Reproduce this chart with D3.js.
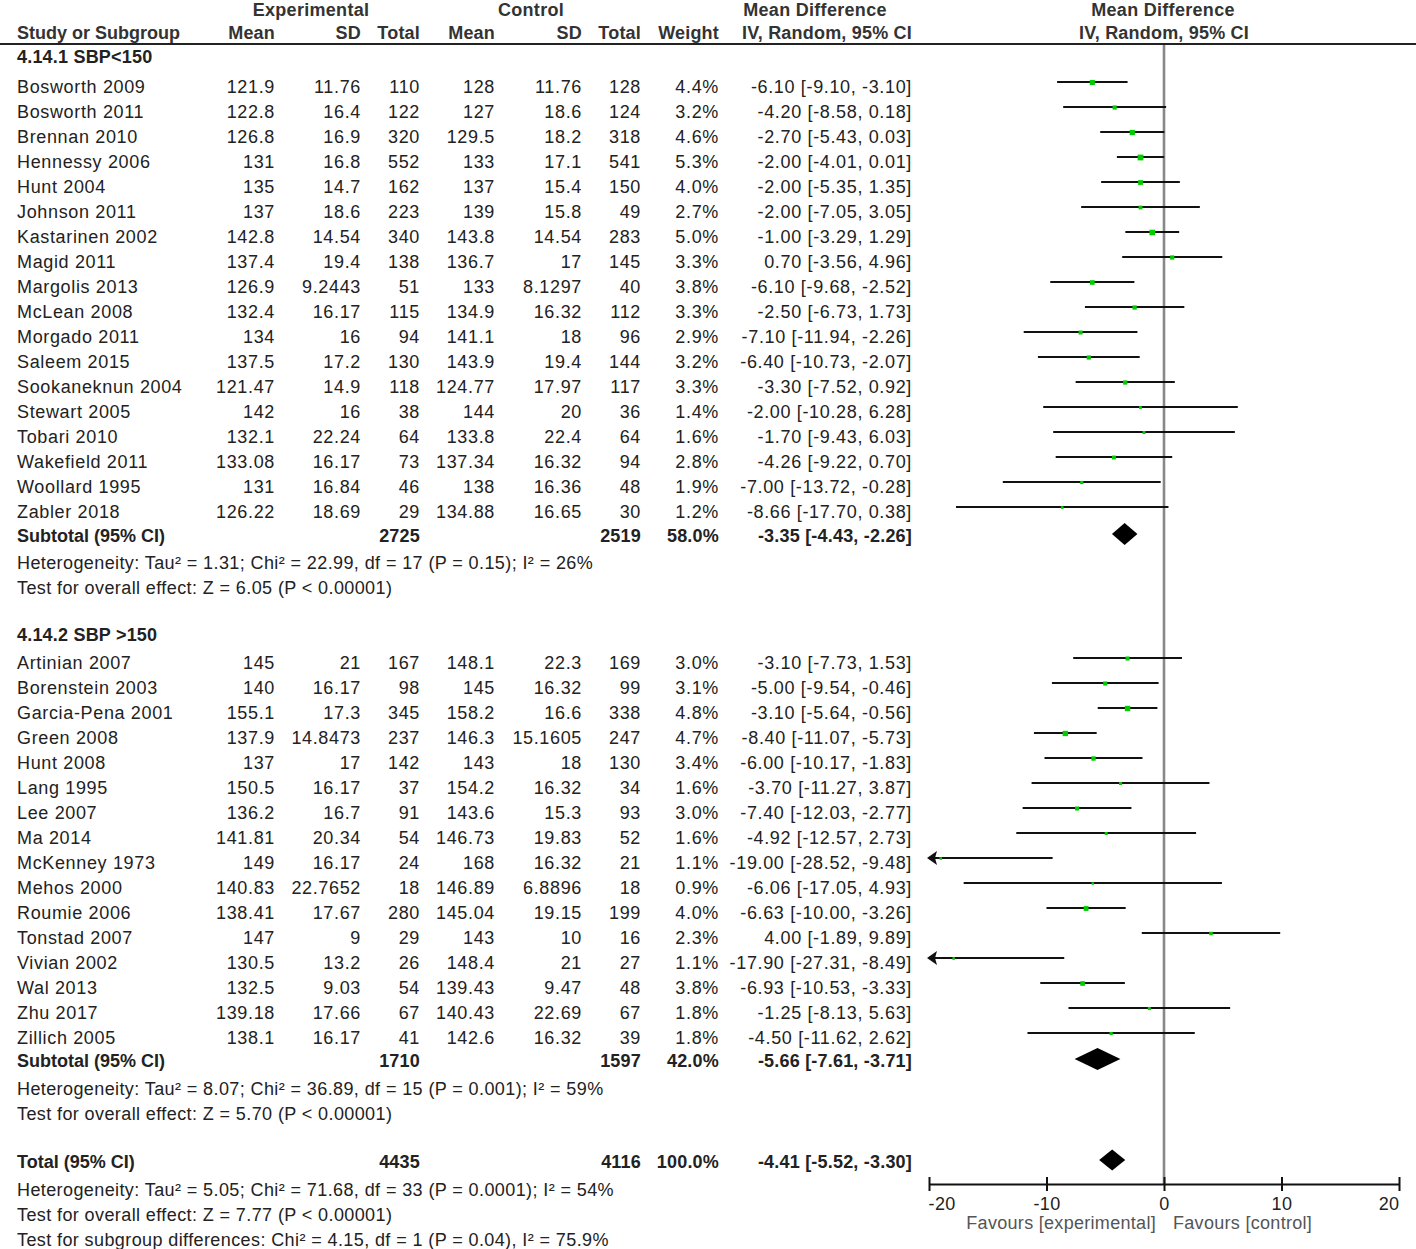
<!DOCTYPE html>
<html><head><meta charset="utf-8">
<script src="https://cdn.jsdelivr.net/npm/d3@7"></script>
<style>
html,body{margin:0;padding:0;background:#fff;}
svg{display:block;font-family:"Liberation Sans",Arial,sans-serif;}
</style></head>
<body><svg id="c" width="1416" height="1249"></svg>
<script>
// ---------- DATA ----------
const group1Label = "4.14.1 SBP<150";
const group1Rows = [
 ["Bosworth 2009","121.9","11.76","110","128","11.76","128"],
 ["Bosworth 2011","122.8","16.4","122","127","18.6","124"],
 ["Brennan 2010","126.8","16.9","320","129.5","18.2","318"],
 ["Hennessy 2006","131","16.8","552","133","17.1","541"],
 ["Hunt 2004","135","14.7","162","137","15.4","150"],
 ["Johnson 2011","137","18.6","223","139","15.8","49"],
 ["Kastarinen 2002","142.8","14.54","340","143.8","14.54","283"],
 ["Magid 2011","137.4","19.4","138","136.7","17","145"],
 ["Margolis 2013","126.9","9.2443","51","133","8.1297","40"],
 ["McLean 2008","132.4","16.17","115","134.9","16.32","112"],
 ["Morgado 2011","134","16","94","141.1","18","96"],
 ["Saleem 2015","137.5","17.2","130","143.9","19.4","144"],
 ["Sookaneknun 2004","121.47","14.9","118","124.77","17.97","117"],
 ["Stewart 2005","142","16","38","144","20","36"],
 ["Tobari 2010","132.1","22.24","64","133.8","22.4","64"],
 ["Wakefield 2011","133.08","16.17","73","137.34","16.32","94"],
 ["Woollard 1995","131","16.84","46","138","16.36","48"],
 ["Zabler 2018","126.22","18.69","29","134.88","16.65","30"]
];
const group1Weight = [4.4,3.2,4.6,5.3,4.0,2.7,5.0,3.3,3.8,3.3,2.9,3.2,3.3,1.4,1.6,2.8,1.9,1.2];
const group1MD  = [-6.10,-4.20,-2.70,-2.00,-2.00,-2.00,-1.00,0.70,-6.10,-2.50,-7.10,-6.40,-3.30,-2.00,-1.70,-4.26,-7.00,-8.66];
const group1Lo  = [-9.10,-8.58,-5.43,-4.01,-5.35,-7.05,-3.29,-3.56,-9.68,-6.73,-11.94,-10.73,-7.52,-10.28,-9.43,-9.22,-13.72,-17.70];
const group1Hi  = [-3.10,0.18,0.03,0.01,1.35,3.05,1.29,4.96,-2.52,1.73,-2.26,-2.07,0.92,6.28,6.03,0.70,-0.28,0.38];
const group1Subtotal = {exp:"2725", ctl:"2519", weight:58.0, md:-3.35, lo:-4.43, hi:-2.26};
const group1Het = "Heterogeneity: Tau\u00b2 = 1.31; Chi\u00b2 = 22.99, df = 17 (P = 0.15); I\u00b2 = 26%";
const group1Test = "Test for overall effect: Z = 6.05 (P < 0.00001)";

const group2Label = "4.14.2 SBP >150";
const group2Rows = [
 ["Artinian 2007","145","21","167","148.1","22.3","169"],
 ["Borenstein 2003","140","16.17","98","145","16.32","99"],
 ["Garcia-Pena 2001","155.1","17.3","345","158.2","16.6","338"],
 ["Green 2008","137.9","14.8473","237","146.3","15.1605","247"],
 ["Hunt 2008","137","17","142","143","18","130"],
 ["Lang 1995","150.5","16.17","37","154.2","16.32","34"],
 ["Lee 2007","136.2","16.7","91","143.6","15.3","93"],
 ["Ma 2014","141.81","20.34","54","146.73","19.83","52"],
 ["McKenney 1973","149","16.17","24","168","16.32","21"],
 ["Mehos 2000","140.83","22.7652","18","146.89","6.8896","18"],
 ["Roumie 2006","138.41","17.67","280","145.04","19.15","199"],
 ["Tonstad 2007","147","9","29","143","10","16"],
 ["Vivian 2002","130.5","13.2","26","148.4","21","27"],
 ["Wal 2013","132.5","9.03","54","139.43","9.47","48"],
 ["Zhu 2017","139.18","17.66","67","140.43","22.69","67"],
 ["Zillich 2005","138.1","16.17","41","142.6","16.32","39"]
];
const group2Weight = [3.0,3.1,4.8,4.7,3.4,1.6,3.0,1.6,1.1,0.9,4.0,2.3,1.1,3.8,1.8,1.8];
const group2MD  = [-3.10,-5.00,-3.10,-8.40,-6.00,-3.70,-7.40,-4.92,-19.00,-6.06,-6.63,4.00,-17.90,-6.93,-1.25,-4.50];
const group2Lo  = [-7.73,-9.54,-5.64,-11.07,-10.17,-11.27,-12.03,-12.57,-28.52,-17.05,-10.00,-1.89,-27.31,-10.53,-8.13,-11.62];
const group2Hi  = [1.53,-0.46,-0.56,-5.73,-1.83,3.87,-2.77,2.73,-9.48,4.93,-3.26,9.89,-8.49,-3.33,5.63,2.62];
const group2Subtotal = {exp:"1710", ctl:"1597", weight:42.0, md:-5.66, lo:-7.61, hi:-3.71};
const group2Het = "Heterogeneity: Tau\u00b2 = 8.07; Chi\u00b2 = 36.89, df = 15 (P = 0.001); I\u00b2 = 59%";
const group2Test = "Test for overall effect: Z = 5.70 (P < 0.00001)";

const totalRow = {exp:"4435", ctl:"4116", weight:100.0, md:-4.41, lo:-5.52, hi:-3.30};
const totalNotes = [
 "Heterogeneity: Tau\u00b2 = 5.05; Chi\u00b2 = 71.68, df = 33 (P = 0.0001); I\u00b2 = 54%",
 "Test for overall effect: Z = 7.77 (P < 0.00001)",
 "Test for subgroup differences: Chi\u00b2 = 4.15, df = 1 (P = 0.04), I\u00b2 = 75.9%"
];
const tickValues = [-20,-10,0,10,20];
const tickLabels = ["-20","-10","0","10","20"];
const favoursLeft = "Favours [experimental]";
const favoursRight = "Favours [control]";
const colHeaders = ["Study or Subgroup","Mean","SD","Total","Mean","SD","Total","Weight","IV, Random, 95% CI"];

// ---------- LAYOUT ----------
const svg = d3.select("#c");
const FS = 18;
const TXT = "#222";
const LS = 0.65;
const colRight = [null,275,361,420,495,582,641,719,912];
const xLeft = 17;
const x = d3.scaleLinear().domain([-20,20]).range([929,1399]);
const axisY = 1184;
const fmt = v => v.toFixed(2);
const ciText = (m,l,h) => `${fmt(m)} [${fmt(l)}, ${fmt(h)}]`;

function text(xp, yb, s, opts={}) {
  return svg.append("text").attr("x", xp).attr("y", yb)
    .attr("font-size", opts.size || FS)
    .attr("font-weight", opts.bold ? "bold" : "normal")
    .attr("fill", opts.fill || TXT)
    .attr("text-anchor", opts.anchor || "start")
    .attr("letter-spacing", opts.ls != null ? opts.ls : LS)
    .text(s);
}

// Header
text(311, 16, "Experimental", {bold:true, anchor:"middle", fill:"#333", ls:0.3});
text(531, 16, "Control", {bold:true, anchor:"middle", fill:"#333", ls:0.3});
text(815, 16, "Mean Difference", {bold:true, anchor:"middle", fill:"#333", ls:0.3});
text(1163, 16, "Mean Difference", {bold:true, anchor:"middle", fill:"#333", ls:0.3});
text(xLeft, 39, colHeaders[0], {bold:true, fill:"#333", ls:0});
for (let i=1;i<colHeaders.length;i++) text(colRight[i], 39, colHeaders[i], {bold:true, anchor:"end", fill:"#333", ls:0.2});
text(1164, 39, colHeaders[8], {bold:true, anchor:"middle", fill:"#333", ls:0.2});

svg.append("line").attr("x1",0).attr("x2",1416).attr("y1",44).attr("y2",44)
  .attr("stroke","#222").attr("stroke-width",2);

// zero line
svg.append("line").attr("x1",x(0)).attr("x2",x(0)).attr("y1",45).attr("y2",axisY)
  .attr("stroke","#888").attr("stroke-width",2.6);

const plot = svg.append("g");

function studyRow(row, w, md, lo, hi, yb) {
  text(xLeft, yb, row[0]);
  for (let c=1;c<=6;c++) text(colRight[c], yb, row[c], {anchor:"end"});
  text(colRight[7], yb, w.toFixed(1)+"%", {anchor:"end"});
  text(colRight[8], yb, ciText(md,lo,hi), {anchor:"end"});
  const yl = yb - 11;
  const [dmin,dmax] = x.domain();
  const l = Math.max(lo, dmin), h = Math.min(hi, dmax);
  plot.append("line").attr("x1", x(l)).attr("x2", x(h)).attr("y1", yl).attr("y2", yl)
    .attr("stroke","#111").attr("stroke-width",2);
  if (lo < dmin) {
    const ax = x(dmin);
    plot.append("path").attr("d", `M${ax-2},${yl} L${ax+8},${yl-7} L${ax+6},${yl} L${ax+8},${yl+7} Z`).attr("fill","#111");
  }
  if (hi > dmax) {
    const ax = x(dmax);
    plot.append("path").attr("d", `M${ax+2},${yl} L${ax-8},${yl-7} L${ax-6},${yl} L${ax-8},${yl+7} Z`).attr("fill","#111");
  }
  const s = 1.8 + w*0.75;
  plot.append("rect").attr("x", x(md)-s/2).attr("y", yl-s/2+0.5).attr("width", s).attr("height", s)
    .attr("fill","#00cc00");
}

function summaryRow(label, d, yb, halfH) {
  text(xLeft, yb, label, {bold:true, ls:0});
  text(colRight[3], yb, d.exp, {bold:true, anchor:"end", ls:0.2});
  text(colRight[6], yb, d.ctl, {bold:true, anchor:"end", ls:0.2});
  text(colRight[7], yb, d.weight.toFixed(1)+"%", {bold:true, anchor:"end", ls:0.2});
  text(colRight[8], yb, ciText(d.md,d.lo,d.hi), {bold:true, anchor:"end", ls:0.2});
  const yc = yb - 8;
  plot.append("path")
    .attr("d", `M${x(d.lo)},${yc} L${x(d.md)},${yc-halfH} L${x(d.hi)},${yc} L${x(d.md)},${yc+halfH} Z`)
    .attr("fill","#000");
}

// Group 1
text(xLeft, 63, group1Label, {bold:true, ls:0.2});
group1Rows.forEach((r,i) => studyRow(r, group1Weight[i], group1MD[i], group1Lo[i], group1Hi[i], 93 + 25*i));
summaryRow("Subtotal (95% CI)", group1Subtotal, 542, 11);
text(xLeft, 569, group1Het, {ls:0.4});
text(xLeft, 594, group1Test, {ls:0.4});

// Group 2
text(xLeft, 641, group2Label, {bold:true, ls:0.2});
group2Rows.forEach((r,i) => studyRow(r, group2Weight[i], group2MD[i], group2Lo[i], group2Hi[i], 669 + 25*i));
summaryRow("Subtotal (95% CI)", group2Subtotal, 1067, 11);
text(xLeft, 1095, group2Het, {ls:0.4});
text(xLeft, 1120, group2Test, {ls:0.4});

// Total
summaryRow("Total (95% CI)", totalRow, 1168, 10.5);
totalNotes.forEach((s,i) => text(xLeft, 1196 + 25*i, s, {ls:0.4}));

// Axis
const axis = d3.axisBottom(x).tickValues(tickValues).tickSizeInner(7).tickSizeOuter(0)
  .tickFormat((d,i) => tickLabels[i]);
const ag = svg.append("g").attr("transform", `translate(0,${axisY})`).call(axis);
ag.select(".domain").attr("stroke","#111").attr("stroke-width",2);
ag.selectAll(".tick line").attr("y1",-7).attr("y2",7).attr("stroke","#111").attr("stroke-width",2);
ag.selectAll(".tick text").attr("y", 26).attr("dy", 0)
  .attr("font-size", FS).attr("font-family", "Liberation Sans, Arial, sans-serif")
  .attr("fill", TXT).attr("letter-spacing", 0.4)
  .attr("text-anchor", (d,i) => i === 0 ? "start" : (i === tickValues.length-1 ? "end" : "middle"))
  .attr("dx", (d,i) => i === 0 ? -1 : 0);
text(x(0)-8, 1229, favoursLeft, {anchor:"end", fill:"#555", ls:0.3});
text(x(0)+9, 1229, favoursRight, {anchor:"start", fill:"#555", ls:0.3});
</script>
</body></html>
